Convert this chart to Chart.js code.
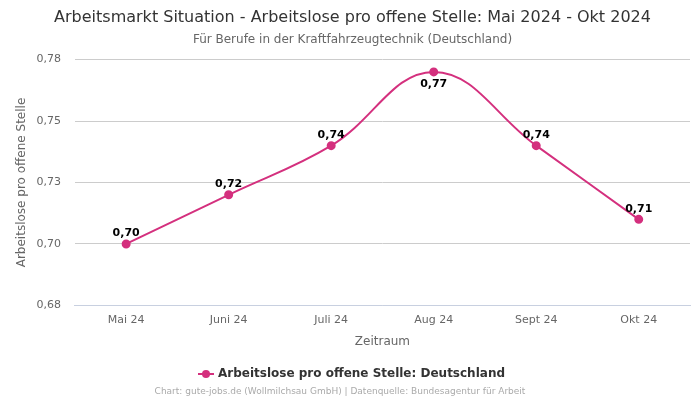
<!DOCTYPE html>
<html><head><meta charset="utf-8">
<script src="https://cdn.jsdelivr.net/npm/chart.js@4"></script>
<style>html,body{margin:0;padding:0;background:#fff}#wrap{width:700px;height:400px}</style>
</head><body><div id="wrap"><canvas id="c"></canvas></div>
<script>
const categories = ["Mai 24","Juni 24","Juli 24","Aug 24","Sept 24","Okt 24"];
const values = [0.70, 0.72, 0.74, 0.77, 0.74, 0.71];
const yTicks = [0.675, 0.70, 0.725, 0.75, 0.775];
const seriesName = "Arbeitslose pro offene Stelle: Deutschland";
const color = "#d4307e";
const fmt = v => (Math.round(v * 100 + 1e-6) / 100).toFixed(2).replace('.', ',');

// legend marker: line with circle
const marker = document.createElement('canvas');
marker.width = 16; marker.height = 10;
(function(){
  const m = marker.getContext('2d');
  m.strokeStyle = color; m.lineWidth = 2;
  m.beginPath(); m.moveTo(0, 5); m.lineTo(16, 5); m.stroke();
  m.fillStyle = color; m.beginPath(); m.arc(8, 5, 4, 0, Math.PI * 2); m.fill();
})();

const labelPlugin = {
  id: 'labels',
  afterDatasetsDraw(chart) {
    const ctx = chart.ctx;
    const meta = chart.getDatasetMeta(0);
    ctx.save();
    ctx.font = 'bold 11px "DejaVu Sans"';
    ctx.fillStyle = '#000';
    ctx.textAlign = 'center';
    meta.data.forEach((pt, i) => {
      const v = values[i];
      const prev = values[i-1], next = values[i+1];
      const isPeak = (prev === undefined || v > prev) && (next === undefined || v > next);
      if (isPeak) { ctx.textBaseline = 'top'; ctx.fillText(fmt(v), pt.x, pt.y + 7); }
      else { ctx.textBaseline = 'bottom'; ctx.fillText(fmt(v), pt.x, pt.y - 5); }
    });
    ctx.restore();
  }
};
const footerPlugin = {
  id: 'footer',
  afterDraw(chart) {
    const ctx = chart.ctx;
    ctx.save();
    ctx.font = '9px "DejaVu Sans"';
    ctx.fillStyle = '#aaa';
    ctx.textAlign = 'center';
    ctx.textBaseline = 'middle';
    ctx.fillText('Chart: gute-jobs.de (Wollmilchsau GmbH) | Datenquelle: Bundesagentur für Arbeit', 340, 392);
    ctx.restore();
  }
};

Chart.defaults.font.family = '"DejaVu Sans", sans-serif';
new Chart(document.getElementById('c'), {
  type: 'line',
  data: {
    labels: categories,
    datasets: [{
      label: seriesName,
      data: values,
      borderColor: color,
      backgroundColor: color,
      borderWidth: 2,
      pointRadius: 3.5,
      pointHoverRadius: 3.5,
      tension: 0.4,
      fill: false
    }]
  },
  options: {
    responsive: true,
    maintainAspectRatio: false,
    animation: false,
    layout: { padding: { left: 15, right: 10, top: 0, bottom: 10 } },
    plugins: {
      title: { display: true, text: 'Arbeitsmarkt Situation - Arbeitslose pro offene Stelle: Mai 2024 - Okt 2024',
        color: '#333', font: { size: 16, weight: 'normal' }, padding: { top: 8, bottom: 4 } },
      subtitle: { display: true, text: 'Für Berufe in der Kraftfahrzeugtechnik (Deutschland)',
        color: '#666', font: { size: 12 }, padding: { top: 1, bottom: 13 } },
      legend: { position: 'bottom', labels: { usePointStyle: true, boxWidth: 16, boxHeight: 10,
        color: '#333', font: { size: 12, weight: 'bold' }, padding: 15,
        generateLabels(chart) {
          return [{ text: seriesName, fillStyle: color, strokeStyle: color, lineWidth: 0, pointStyle: marker, datasetIndex: 0, fontColor: '#333' }];
        } } },
      tooltip: { enabled: false }
    },
    scales: {
      x: {
        grid: { display: false, drawTicks: false },
        border: { display: true, color: '#c8d0e0' },
        ticks: { color: '#666', font: { size: 11 }, padding: 8 },
        title: { display: true, text: 'Zeitraum', color: '#666', font: { size: 12 }, padding: { top: 0 } },
        offset: true
      },
      y: {
        min: 0.675, max: 0.775,
        afterBuildTicks(axis) { axis.ticks = yTicks.map(v => ({ value: v })); },
        grid: { color: '#cccccc', drawTicks: false },
        border: { display: false },
        ticks: { color: '#666', font: { size: 11 }, padding: 14, callback: v => fmt(v) },
        title: { display: true, text: 'Arbeitslose pro offene Stelle', color: '#666', font: { size: 12 }, padding: { top: 0, bottom: -7 } }
      }
    }
  },
  plugins: [labelPlugin, footerPlugin]
});
</script></body></html>
